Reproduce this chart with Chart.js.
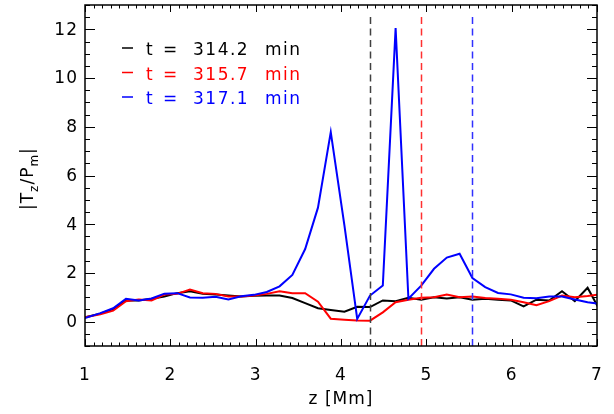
<!DOCTYPE html>
<html>
<head>
    <title>|Tz/Pm| vs z</title>
    <script src="https://cdn.jsdelivr.net/npm/chart.js@4/dist/chart.umd.min.js"></script>
    <style>
        body { margin: 0; background: #fff; }
    </style>
</head>
<body>
    <canvas id="plot" width="614" height="414"></canvas>
    <script type="text/javascript">
    // height z [Mm] of each sample
    var zVals = [1.00, 1.18, 1.33, 1.48, 1.63, 1.78, 1.93, 2.08, 2.23, 2.38,
                 2.53, 2.68, 2.83, 2.98, 3.13, 3.28, 3.43, 3.58, 3.73, 3.88,
                 4.04, 4.19, 4.34, 4.49, 4.64, 4.79, 4.94, 5.09, 5.24, 5.39,
                 5.54, 5.69, 5.84, 5.99, 6.14, 6.29, 6.44, 6.59, 6.74, 6.89, 7.04];
    // |Tz/Pm| at the three times
    var blackVals = [0.18, 0.33, 0.52, 0.87, 0.87, 0.94, 1.03, 1.17, 1.25, 1.14,
                     1.11, 1.07, 1.03, 1.06, 1.07, 1.07, 0.97, 0.76, 0.55, 0.48,
                     0.41, 0.61, 0.60, 0.87, 0.84, 0.98, 0.90, 1.00, 0.95, 1.00,
                     0.90, 0.94, 0.90, 0.87, 0.63, 0.90, 0.87, 1.25, 0.84, 1.39, 0.42];
    var redVals = [0.18, 0.30, 0.45, 0.84, 0.91, 0.87, 1.11, 1.14, 1.32, 1.17,
                   1.14, 1.03, 1.03, 1.07, 1.14, 1.25, 1.17, 1.17, 0.82, 0.12,
                   0.08, 0.05, 0.04, 0.38, 0.80, 0.90, 0.98, 1.00, 1.11, 1.00,
                   1.03, 0.97, 0.94, 0.90, 0.80, 0.67, 0.84, 1.07, 1.00, 1.05, 1.12];
    var blueVals = [0.15, 0.35, 0.55, 0.94, 0.87, 0.95, 1.15, 1.17, 0.99, 0.98,
                    1.02, 0.91, 1.04, 1.10, 1.22, 1.45, 1.92, 2.98, 4.68, 7.78,
                    3.95, 0.11, 1.07, 1.48, 12.05, 0.94, 1.48, 2.17, 2.63, 2.79,
                    1.79, 1.42, 1.18, 1.12, 0.98, 0.96, 1.03, 1.03, 0.91, 0.80, 0.72];
    var seriesNames = ['t = 314.2 min', 't = 315.7 min', 't = 317.1 min'];
    var seriesTimes = ['314.2', '315.7', '317.1'];
    var seriesColors = ['#000000', '#ff0000', '#0000ff'];
    var dashColors = ['#404040', '#ff3030', '#3030ff'];
    // dashed marker heights, one per time
    var markerZ = [4.34, 4.94, 5.54];
    var xTicks = [1, 2, 3, 4, 5, 6, 7];
    var yTicks = [0, 2, 4, 6, 8, 10, 12];

    var FONT = '17px "DejaVu Sans", sans-serif';
    var SUBFONT = '12px "DejaVu Sans", sans-serif';

    function toPoints(vals) {
        var out = [];
        for (var i = 0; i < vals.length; i++) {
            out.push({ x: zVals[i], y: vals[i] });
        }
        return out;
    }

    function spaced(ctx, s) {
        if ('letterSpacing' in ctx) ctx.letterSpacing = s;
    }

    // frame, inward ticks, labels, dashed markers and legend, IDL style
    var idlFrame = {
        id: 'idlFrame',
        afterDatasetsDraw: function(chart) {
            var ctx = chart.ctx;
            var a = chart.chartArea;
            var xs = chart.scales.x, ys = chart.scales.y;
            var i, v, px, py, len, y0;
            ctx.save();

            // dashed markers, drawn from the bottom up as separate dashes
            ctx.lineWidth = 1.5;
            for (i = 0; i < markerZ.length; i++) {
                px = Math.round(xs.getPixelForValue(markerZ[i])) + 0.5;
                ctx.strokeStyle = dashColors[i];
                ctx.beginPath();
                for (y0 = a.bottom; y0 > a.top + 8; y0 -= 11.5) {
                    ctx.moveTo(px, y0);
                    ctx.lineTo(px, y0 - 7);
                }
                ctx.stroke();
            }

            // box
            ctx.strokeStyle = '#000';
            ctx.lineWidth = 1.5;
            ctx.strokeRect(a.left, a.top, a.right - a.left, a.bottom - a.top);

            // x ticks (bottom and top), minor every 0.1
            ctx.lineWidth = 1;
            ctx.beginPath();
            for (i = 10; i <= 70; i++) {
                v = i / 10;
                px = Math.round(xs.getPixelForValue(v)) + 0.5;
                len = (i % 10 === 0) ? 7 : 3.5;
                ctx.moveTo(px, a.bottom);
                ctx.lineTo(px, a.bottom - len);
                ctx.moveTo(px, a.top);
                ctx.lineTo(px, a.top + len);
            }
            // y ticks (left and right), minor every 0.5
            for (i = -2; i <= 26; i++) {
                v = i / 2;
                py = Math.round(ys.getPixelForValue(v)) + 0.5;
                len = (i % 4 === 0) ? 10 : 5;
                ctx.moveTo(a.left, py);
                ctx.lineTo(a.left + len, py);
                ctx.moveTo(a.right, py);
                ctx.lineTo(a.right - len, py);
            }
            ctx.stroke();

            // tick labels
            ctx.fillStyle = '#000';
            ctx.font = FONT;
            spaced(ctx, '1px');
            ctx.textAlign = 'center';
            ctx.textBaseline = 'alphabetic';
            for (i = 0; i < xTicks.length; i++) {
                ctx.fillText(String(xTicks[i]), xs.getPixelForValue(xTicks[i]), 379.5);
            }
            ctx.textAlign = 'right';
            ctx.textBaseline = 'middle';
            for (i = 0; i < yTicks.length; i++) {
                ctx.fillText(String(yTicks[i]), 78, ys.getPixelForValue(yTicks[i]) + 1);
            }

            // x title
            ctx.textAlign = 'center';
            ctx.textBaseline = 'alphabetic';
            ctx.fillText('z [Mm]', (a.left + a.right) / 2, 404);

            // y title |Tz/Pm| with subscripts, rotated
            ctx.save();
            ctx.translate(33, 210);
            ctx.rotate(-Math.PI / 2);
            ctx.textAlign = 'left';
            var parts = [['|T', FONT, 0], ['z', SUBFONT, 5], ['/P', FONT, 0], ['m', SUBFONT, 5], ['|', FONT, 0]];
            var cx = 0;
            for (i = 0; i < parts.length; i++) {
                ctx.font = parts[i][1];
                ctx.fillText(parts[i][0], cx, parts[i][2]);
                cx += ctx.measureText(parts[i][0]).width;
            }
            ctx.restore();

            // legend
            ctx.font = FONT;
            spaced(ctx, '1.5px');
            ctx.textAlign = 'left';
            ctx.textBaseline = 'alphabetic';
            for (i = 0; i < seriesTimes.length; i++) {
                var base = 55 + i * 24.5;
                ctx.strokeStyle = seriesColors[i];
                ctx.fillStyle = seriesColors[i];
                ctx.lineWidth = 1.5;
                ctx.beginPath();
                ctx.moveTo(122, base - 7);
                ctx.lineTo(133, base - 7);
                ctx.stroke();
                ctx.fillText('t', 146, base);
                ctx.fillText('=', 163, base);
                ctx.fillText(seriesTimes[i], 193, base);
                ctx.fillText('min', 265, base);
            }
            ctx.restore();
        }
    };

    var datasets = [];
    var allVals = [blackVals, redVals, blueVals];
    for (var k = 0; k < allVals.length; k++) {
        datasets.push({
            label: seriesNames[k],
            data: toPoints(allVals[k]),
            borderColor: seriesColors[k],
            backgroundColor: seriesColors[k],
            borderWidth: 2,
            pointRadius: 0,
            tension: 0,
            fill: false,
            order: 2 - k
        });
    }

    var myChart = new Chart(document.getElementById('plot'), {
        type: 'line',
        data: { datasets: datasets },
        options: {
            responsive: false,
            animation: false,
            devicePixelRatio: 1,
            layout: { padding: { top: 5, right: 17, left: 0, bottom: 0 } },
            plugins: { legend: { display: false }, tooltip: { enabled: false } },
            scales: {
                x: {
                    type: 'linear', min: 1, max: 7,
                    grid: { display: false }, border: { display: false },
                    ticks: { display: false },
                    afterFit: function(s) { s.height = 68; }
                },
                y: {
                    type: 'linear', min: -1, max: 13,
                    grid: { display: false }, border: { display: false },
                    ticks: { display: false },
                    afterFit: function(s) { s.width = 85; }
                }
            }
        },
        plugins: [idlFrame]
    });
    </script>
</body>
</html>
